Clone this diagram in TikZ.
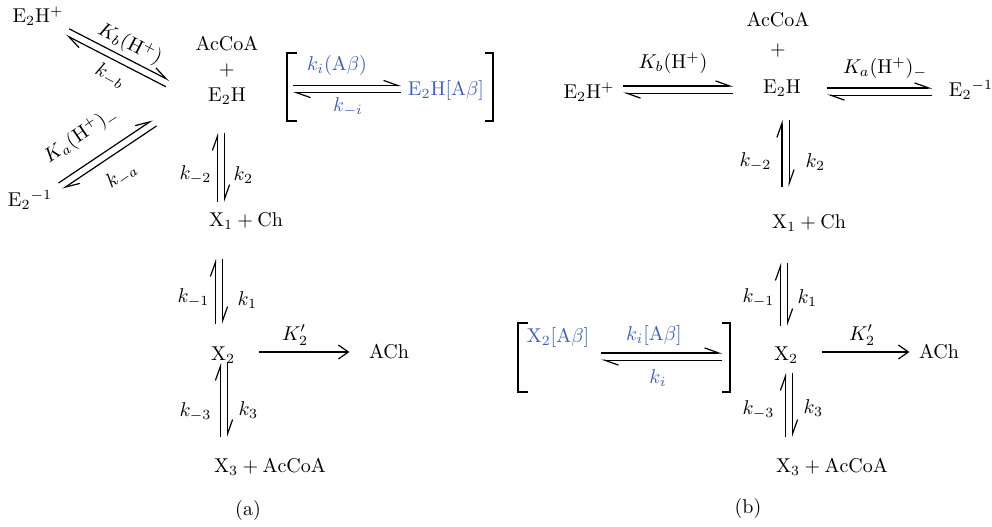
\documentclass[tikz,border=0pt]{standalone}
\usetikzlibrary{arrows.meta,calc}
\definecolor{abeta}{RGB}{64,96,176}
\newcommand\eqm[2]{%
\draw[fwd] ($(#1)!1.8pt!90:(#2)$) -- ($(#2)!1.8pt!-90:(#1)$);
\draw[fwd] ($(#2)!1.8pt!90:(#1)$) -- ($(#1)!1.8pt!-90:(#2)$);}
\begin{document}
\begin{tikzpicture}[x=0.5pt,y=-0.5pt,inner sep=0pt,line width=0.6pt,
  >={Straight Barb[length=5pt,width=7pt]},
  fwd/.style={-{Straight Barb[harpoon,length=7pt,width=5pt]}},
  inh/.style={text=abeta}]
\useasboundingbox (0,0) rectangle (992,526);
% (a)
\node (e2hpA) at (38,16) {$\mathrm{E_2H^+}$};
\node (accoaA) at (227,44) {AcCoA}; \node (plusA) at (227,70) {+}; \node (e2hA) at (227,96) {$\mathrm{E_2H}$};
\node (e2mA) at (30,200) {$\mathrm{E_2}{}^{-1}$};
\node (x1A) at (246,221) {$\mathrm{X_1+Ch}$};
\node (x2A) at (223,355) {$\mathrm{X_2}$}; \node (achA) at (389,352) {ACh};
\node (x3A) at (270,467) {$\mathrm{X_3+AcCoA}$};
\node (capA) at (248,510) {(a)};
\node[inh] (e2hibA) at (446,90) {$\mathrm{E_2H[A}\beta]$};
\coordinate (ubA1) at (67.5,32); \coordinate (ubA2) at (167.5,83.5);
\coordinate (lbA1) at (60.5,186); \coordinate (lbA2) at (154.5,123);
\coordinate (v1A1) at (221,133); \coordinate (v1A2) at (221,202);
\coordinate (v2A1) at (219,259); \coordinate (v2A2) at (219,324);
\coordinate (v3A1) at (224,363); \coordinate (v3A2) at (224,437);
\coordinate (ibA1) at (293,89); \coordinate (ibA2) at (401,89);
\eqm{ubA1}{ubA2} \eqm{lbA1}{lbA2} \eqm{v1A1}{v1A2} \eqm{v2A1}{v2A2} \eqm{v3A1}{v3A2} \eqm{ibA1}{ibA2}
\draw[->,shorten <=11.5pt,shorten >=9.5pt] (x2A.east |- achA) -- (achA.west);
\draw (297,53) -- (287,53) -- (287,121) -- (297,121); \draw (485,53) -- (493,53) -- (493,121) -- (485,121);
\node[rotate=-27] (kbA) at (130,44) {$K_b(\mathrm{H^+})$}; \node[rotate=-27] (kmbA) at (110,76) {$k_{-b}$};
\node[rotate=34] (kaA) at (81,135) {$K_a(\mathrm{H^+})_-$}; \node[rotate=34] (kmaA) at (122,176) {$k_{-a}$};
\node[anchor=east] (km2A) at (212,175) {$k_{-2}$}; \node[anchor=west] (k2A) at (233,175) {$k_2$};
\node[anchor=east] (km1A) at (210,298) {$k_{-1}$}; \node[anchor=west] (k1A) at (237,300) {$k_1$};
\node (kp2A) at (295,335) {$K_2'$};
\node[anchor=east] (km3A) at (212,412) {$k_{-3}$}; \node[anchor=west] (k3A) at (238,410) {$k_3$};
\node[inh] (kiA) at (337,65) {$k_i(\mathrm{A}\beta)$}; \node[inh] (kmiA) at (348,107) {$k_{-i}$};
% (b)
\node (e2hpB) at (589,92) {$\mathrm{E_2H^+}$};
\node (accoaB) at (778,20) {AcCoA}; \node (plusB) at (778,50) {+}; \node (e2hB) at (782,88) {$\mathrm{E_2H}$};
\node (e2mB) at (971,90) {$\mathrm{E_2}{}^{-1}$};
\node (x1B) at (809,223) {$\mathrm{X_1+Ch}$};
\node (x2B) at (786,355) {$\mathrm{X_2}$}; \node (achB) at (939,352) {ACh};
\node (x3B) at (832,467) {$\mathrm{X_3+AcCoA}$};
\node (capB) at (748,508) {(b)};
\node[inh] (x2ibB) at (558,337) {$\mathrm{X_2[A}\beta]$};
\coordinate (hbB1) at (623,89.5); \coordinate (hbB2) at (733,89.5);
\coordinate (haB1) at (827,91.5); \coordinate (haB2) at (932,91.5);
\coordinate (v1B1) at (785.5,120); \coordinate (v1B2) at (785.5,187);
\coordinate (v2B1) at (784,263); \coordinate (v2B2) at (784,326);
\coordinate (v3B1) at (789,373); \coordinate (v3B2) at (789,437);
\coordinate (ibB1) at (601,356.5); \coordinate (ibB2) at (722,356.5);
\eqm{hbB1}{hbB2} \eqm{haB1}{haB2} \eqm{v1B1}{v1B2} \eqm{v2B1}{v2B2} \eqm{v3B1}{v3B2} \eqm{ibB1}{ibB2}
\draw[->,shorten <=11.5pt,shorten >=4.5pt] (x2B.east |- achB) -- (achB.west);
\draw (528,323) -- (518,323) -- (518,392) -- (528,392); \draw (722,323) -- (730,323) -- (730,392) -- (722,392);
\node (kbB) at (673,63) {$K_b(\mathrm{H^+})$}; \node (kaB) at (885,68) {$K_a(\mathrm{H^+})_-$};
\node[anchor=east] (km2B) at (772,162) {$k_{-2}$}; \node[anchor=west] (k2B) at (805,162) {$k_2$};
\node[anchor=east] (km1B) at (775,298) {$k_{-1}$}; \node[anchor=west] (k1B) at (797,298) {$k_1$};
\node (kp2B) at (862,335) {$K_2'$};
\node[anchor=east] (km3B) at (775,410) {$k_{-3}$}; \node[anchor=west] (k3B) at (803,408) {$k_3$};
\node[inh] (kiB) at (654,335) {$k_i[\mathrm{A}\beta]$}; \node[inh] (kmiB) at (658,378) {$k_i$};
\end{tikzpicture}
\end{document}
